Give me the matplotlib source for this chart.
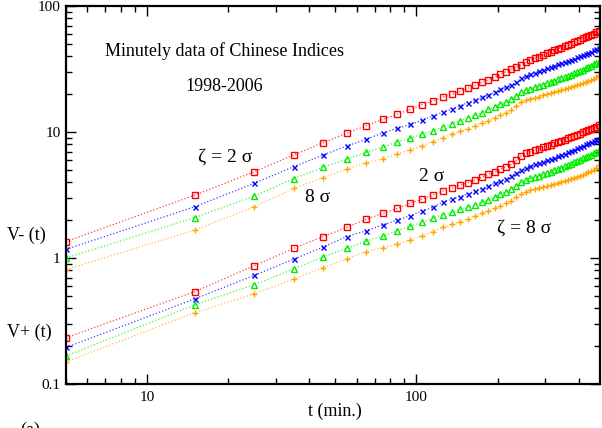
import numpy as np
import matplotlib
matplotlib.use('Agg')
from matplotlib import pyplot as plt
from matplotlib.ticker import FixedLocator, FixedFormatter, LogLocator, NullFormatter

# time lags (minutes)
t = np.arange(5, 480, 10)

# V-(t), zeta = 2, 4, 6, 8 sigma
vm_2 = [1.35, 3.15, 4.84, 6.57, 8.22, 9.77, 11.2, 12.6, 13.9, 15.1, 16.5, 17.6, 19.0, 19.9, 21.0, 22.2,
        23.5, 24.8, 26.0, 27.2, 28.7, 30.1, 31.6, 32.6, 34.3, 35.9, 37.3, 38.5, 39.6, 40.9, 42.2, 43.4,
        44.5, 45.6, 46.7, 47.9, 49.0, 50.2, 51.5, 52.7, 54.0, 55.4, 56.7, 57.8, 58.9, 60.3, 61.8, 63.3]
vm_4 = [1.17, 2.55, 3.92, 5.30, 6.57, 7.74, 8.75, 9.82, 10.7, 11.5, 12.4, 13.4, 14.4, 15.2, 16.1, 17.1,
        17.9, 18.8, 19.7, 20.7, 21.8, 22.6, 23.7, 25.0, 26.6, 27.8, 28.7, 29.6, 30.5, 31.2, 32.0, 32.8,
        33.6, 34.5, 35.1, 35.9, 36.6, 37.5, 38.2, 39.2, 39.9, 40.8, 41.6, 42.6, 43.4, 44.5, 45.3, 46.2]
vm_6 = [1.00, 2.09, 3.10, 4.26, 5.25, 6.07, 6.90, 7.60, 8.33, 8.92, 9.64, 10.2, 11.0, 11.6, 12.3, 12.9,
        13.6, 14.2, 15.1, 15.7, 16.7, 17.3, 18.2, 19.3, 20.8, 21.5, 22.1, 22.6, 23.2, 23.7, 24.3, 24.9,
        25.5, 26.2, 26.7, 27.3, 28.0, 28.5, 29.2, 29.9, 30.7, 31.2, 32.0, 32.8, 33.6, 34.5, 35.3, 36.1]
vm_8 = [0.81, 1.66, 2.55, 3.57, 4.34, 5.06, 5.71, 6.14, 6.69, 7.24, 7.78, 8.38, 9.00, 9.58, 10.1, 10.6,
        11.2, 11.7, 12.3, 12.9, 13.6, 14.2, 15.0, 16.1, 17.3, 17.8, 18.3, 18.7, 19.1, 19.6, 19.9, 20.3,
        20.7, 21.0, 21.4, 21.8, 22.2, 22.6, 23.0, 23.5, 23.9, 24.3, 24.8, 25.2, 25.9, 26.5, 27.3, 28.3]

# V+(t), zeta = 2, 4, 6, 8 sigma
vp_2 = [0.233, 0.54, 0.869, 1.19, 1.48, 1.75, 2.03, 2.26, 2.48, 2.72, 2.94, 3.16, 3.40, 3.57, 3.78, 3.96,
        4.16, 4.37, 4.62, 4.79, 5.06, 5.31, 5.54, 5.95, 6.49, 6.78, 6.98, 7.19, 7.37, 7.56, 7.74, 7.93,
        8.13, 8.33, 8.48, 8.69, 8.91, 9.07, 9.30, 9.52, 9.70, 9.94, 10.1, 10.4, 10.6, 10.8, 11.0, 11.3]
vp_4 = [0.195, 0.473, 0.728, 0.98, 1.22, 1.48, 1.64, 1.83, 2.00, 2.17, 2.36, 2.52, 2.78, 2.92, 3.07, 3.22,
        3.40, 3.55, 3.73, 3.92, 4.08, 4.24, 4.48, 4.70, 4.99, 5.21, 5.37, 5.54, 5.67, 5.82, 5.96, 6.10,
        6.25, 6.41, 6.57, 6.73, 6.90, 7.07, 7.24, 7.42, 7.60, 7.79, 7.98, 8.13, 8.33, 8.48, 8.69, 8.85]
vp_6 = [0.167, 0.424, 0.614, 0.818, 1.02, 1.19, 1.36, 1.50, 1.65, 1.79, 1.92, 2.07, 2.21, 2.30, 2.43, 2.53,
        2.63, 2.77, 2.89, 3.03, 3.22, 3.36, 3.51, 3.73, 4.01, 4.16, 4.29, 4.39, 4.50, 4.61, 4.73, 4.84,
        4.96, 5.08, 5.21, 5.34, 5.47, 5.61, 5.75, 5.89, 6.03, 6.18, 6.33, 6.49, 6.61, 6.78, 6.94, 7.11]
vp_8 = [0.150, 0.368, 0.521, 0.68, 0.84, 0.98, 1.12, 1.21, 1.29, 1.39, 1.50, 1.62, 1.75, 1.85, 1.94, 2.04,
        2.15, 2.26, 2.37, 2.48, 2.60, 2.72, 2.85, 3.03, 3.25, 3.36, 3.46, 3.55, 3.61, 3.68, 3.75, 3.82,
        3.89, 3.96, 4.03, 4.11, 4.18, 4.26, 4.34, 4.42, 4.50, 4.58, 4.70, 4.79, 4.90, 5.02, 5.21, 5.44]

xticks = [10, 100]
yticks = [0.1, 1, 10, 100]
ytick_labels = ['0.1', '1', '10', '100']

plt.rcParams['font.family'] = ['Liberation Serif', 'DejaVu Serif']

W, H = 602, 428
fig = plt.figure(figsize=(W / 100, H / 100), dpi=100)
ax = fig.add_axes([66 / W, 1 - 384 / H, (600 - 66) / W, (384 - 6) / H])

styles = [
    ('#ff0000', 's', 4.2, 'none'),
    ('#0000ff', 'x', 3.6, None),
    ('#00ee00', '^', 4.4, 'none'),
    ('#ffa500', '+', 5.0, None),
]
for series in ([vm_2, vm_4, vm_6, vm_8], [vp_2, vp_4, vp_6, vp_8]):
    for y, (c, m, ms, fc) in zip(series, styles):
        # dotted connecting line, a bit paler than the markers
        ax.plot(t, y, color=c, linestyle=':', linewidth=0.9, alpha=0.75)
        kw = dict(color=c, marker=m, markersize=ms, markeredgewidth=1.0, linestyle='none')
        if fc is not None:
            kw['markerfacecolor'] = fc
        ax.plot(t, y, **kw)

ax.set_xscale('log')
ax.set_yscale('log')
ax.set_xlim(5, 480)
ax.set_ylim(0.1, 100)

ax.xaxis.set_major_locator(FixedLocator(xticks))
ax.xaxis.set_major_formatter(FixedFormatter([str(v) for v in xticks]))
ax.xaxis.set_minor_locator(LogLocator(base=10, subs=np.arange(2, 10)))
ax.xaxis.set_minor_formatter(NullFormatter())
ax.yaxis.set_major_locator(FixedLocator(yticks))
ax.yaxis.set_major_formatter(FixedFormatter(ytick_labels))
ax.yaxis.set_minor_locator(LogLocator(base=10, subs=np.arange(2, 10)))
ax.yaxis.set_minor_formatter(NullFormatter())

ax.tick_params(which='both', direction='in', top=True, right=True, width=1.0, labelsize=11)
ax.tick_params(which='major', length=7)
ax.tick_params(which='minor', length=4)
ax.tick_params(axis='x', pad=5)
ax.tick_params(axis='y', pad=4)
for s in ax.spines.values():
    s.set_linewidth(1.6)


def ftext(x, y, s, **kw):
    fig.text(x / W, 1 - y / H, s, va='baseline', **kw)


ftext(105, 56, 'Minutely data of Chinese Indices', fontsize=13)
ftext(185, 91, '1998-2006', fontsize=13)
ftext(198, 162, 'ζ = 2 σ', fontsize=14)
ftext(305, 202, '8 σ', fontsize=14)
ftext(419, 181, '2 σ', fontsize=14)
ftext(497, 233, 'ζ = 8 σ', fontsize=14)
ftext(7, 240, 'V- (t)', fontsize=13)
ftext(7, 337, 'V+ (t)', fontsize=13)
ftext(335, 416, 't (min.)', fontsize=13, ha='center')
ftext(20, 435, '(a)', fontsize=13)

fig.savefig('out.png', dpi=100)
